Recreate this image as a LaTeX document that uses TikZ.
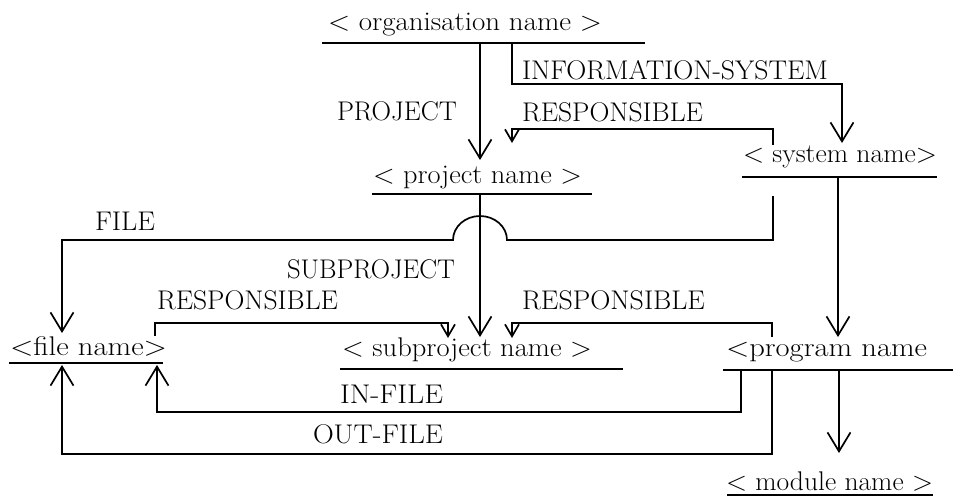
\documentclass[tikz,border=0pt]{standalone}
\usepackage{graphicx}
\usetikzlibrary{arrows.meta}
\newcommand\fitto[2]{\resizebox{#1}{\height}{#2}}
\tikzset{
  lbl/.style={inner sep=0pt, outer sep=0pt, anchor=base west, font=\fontsize{27}{32}\selectfont},
  uline/.style={line width=1.8pt},
  conn/.style={line width=1.7pt, line join=miter},
  bigarr/.style={conn, -{Straight Barb[length=19pt,width=23pt,line width=1.7pt]}},
  smallarr/.style={conn, -{Straight Barb[length=12pt,width=14pt,line width=1.7pt]}}
}
\begin{document}
\begin{tikzpicture}[x=1pt,y=-1pt]
\useasboundingbox (0,0) rectangle (953,496);
% entity texts
\node[lbl] (org) at (328,30) {\fitto{274pt}{< organisation name >}};
\node[lbl] (sys) at (743,162) {\fitto{194pt}{< system name>}};
\node[lbl] (proj) at (373,183) {\fitto{209pt}{< project name >}};
\node[lbl] (file) at (10,355) {\fitto{157pt}{<file name>}};
\node[lbl] (subp) at (342,356) {\fitto{250pt}{< subproject name >}};
\node[lbl] (prog) at (726,356) {\fitto{201pt}{<program name}};
\node[lbl] (mod) at (726,490) {\fitto{207pt}{< module name >}};
% relation labels
\node[lbl] (lproject) at (337,120) {\fitto{120pt}{PROJECT}};
\node[lbl] (linfo) at (522,79) {\fitto{306pt}{INFORMATION-SYSTEM}};
\node[lbl] (lresp1) at (522,121) {\fitto{181pt}{RESPONSIBLE}};
\node[lbl] (lfile) at (95,230) {\fitto{60pt}{FILE}};
\node[lbl] (lsub) at (287,278) {\fitto{168pt}{SUBPROJECT}};
\node[lbl] (lresp2) at (157,309) {\fitto{181pt}{RESPONSIBLE}};
\node[lbl] (lresp3) at (522,309) {\fitto{183pt}{RESPONSIBLE}};
\node[lbl] (linf) at (340,403) {\fitto{103pt}{IN-FILE}};
\node[lbl] (loutf) at (313,443) {\fitto{130pt}{OUT-FILE}};
% underlines
\coordinate (orgL) at (322,43); \coordinate (orgR) at (645,43);
\coordinate (sysL) at (742,177); \coordinate (sysR) at (937,177);
\coordinate (projL) at (372,194); \coordinate (projR) at (592,194);
\coordinate (fileL) at (9,363); \coordinate (fileR) at (163,363);
\coordinate (subpL) at (340,369); \coordinate (subpR) at (623,369);
\coordinate (progL) at (723,370); \coordinate (progR) at (953,370);
\coordinate (modL) at (727,495); \coordinate (modR) at (933,495);
\draw[uline] (orgL) -- (orgR);
\draw[uline] (sysL) -- (sysR);
\draw[uline] (projL) -- (projR);
\draw[uline] (fileL) -- (fileR);
\draw[uline] (subpL) -- (subpR);
\draw[uline] (progL) -- (progR);
\draw[uline] (modL) -- (modR);
% connector endpoints
\coordinate (projTip) at (480,160);
\coordinate (sysTip) at (842,143);
\coordinate (projTip2) at (512,143);
\coordinate (fileTip) at (62,333);
\coordinate (subTip) at (480,337);
\coordinate (subTip2) at (448,338);
\coordinate (subTip3) at (512,338);
\coordinate (progTip) at (838,337);
\coordinate (fileTip2) at (157,365);
\coordinate (fileTip3) at (62,365);
\coordinate (modTip) at (839,453);
% PROJECT
\draw[bigarr] (480,43) -- (projTip);
% INFORMATION-SYSTEM
\draw[bigarr] (512,43) -- (512,84) -- (842,84) -- (sysTip);
% RESPONSIBLE (system -> project)
\draw[smallarr] (773,145) -- (773,129) -- (512,129) -- (projTip2);
% FILE (system -> file) with hop
\draw[bigarr] (773,196) -- (773,240) -- (507,240) arc[start angle=0,end angle=180,x radius=27,y radius=-24] -- (62,240) -- (fileTip);
% SUBPROJECT
\draw[bigarr] (480,194) -- (subTip);
% RESPONSIBLE (file -> subproject)
\draw[smallarr] (155,336) -- (155,323) -- (448,323) -- (subTip2);
% RESPONSIBLE (program -> subproject)
\draw[smallarr] (772,337) -- (772,323) -- (512,323) -- (subTip3);
% system -> program
\draw[bigarr] (838,177) -- (progTip);
% IN-FILE
\draw[bigarr] (741,370) -- (741,412) -- (157,412) -- (fileTip2);
% OUT-FILE
\draw[bigarr] (772,370) -- (772,454) -- (62,454) -- (fileTip3);
% program -> module
\draw[bigarr] (839,370) -- (modTip);
\end{tikzpicture}
\end{document}
